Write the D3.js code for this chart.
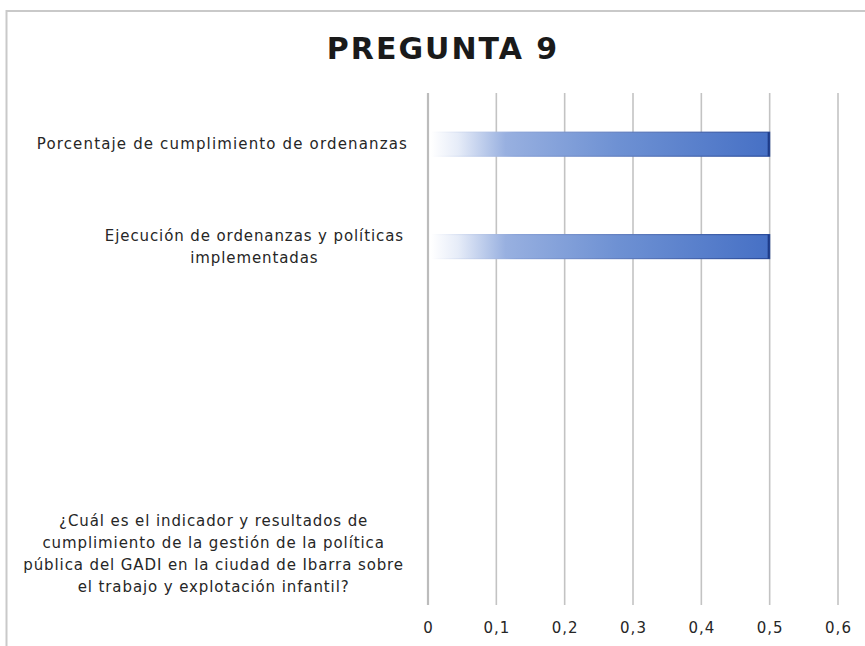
<!DOCTYPE html>
<html>
<head>
<meta charset="utf-8">
<script src="https://cdn.jsdelivr.net/npm/d3@7"></script>
<style>
  body { margin: 0; background: #fff; }
  text { font-family: "DejaVu Sans", sans-serif; fill: #262626; }
</style>
</head>
<body>
<div class="chart"></div>
<script>
// data
var categories = [
  "Porcentaje de cumplimiento de ordenanzas",
  "Ejecución de ordenanzas y políticas\nimplementadas",
  "",
  "",
  "¿Cuál es el indicador y resultados de\ncumplimiento de la gestión de la política\npública del GADI en la ciudad de Ibarra sobre\nel trabajo y explotación infantil?"
];
var values = [0.5, 0.5, null, null, null];
var xTicks = [0, 0.1, 0.2, 0.3, 0.4, 0.5, 0.6];
var title = "PREGUNTA 9";

var svgWidth = 865;
var svgHeight = 646;
var margin = { top: 93, right: 27, bottom: 41, left: 428 };
var width = svgWidth - margin.left - margin.right;
var height = svgHeight - margin.top - margin.bottom;

var svg = d3.select(".chart")
  .append("svg")
  .attr("width", svgWidth)
  .attr("height", svgHeight);

// chart frame (top + left edges visible)
svg.append("path")
  .attr("d", "M6.5,646 V11 H865")
  .attr("fill", "none")
  .attr("stroke", "#c9c9c9")
  .attr("stroke-width", 2);

var defs = svg.append("defs");
var grad = defs.append("linearGradient").attr("id", "barFill")
  .attr("x1", "0%").attr("x2", "100%").attr("y1", "0%").attr("y2", "0%");
[["0%", "#ffffff"], ["8%", "#e6ecf8"], ["22%", "#98b0e0"], ["55%", "#6e91d3"], ["100%", "#4670c5"]]
  .forEach(function(s) { grad.append("stop").attr("offset", s[0]).attr("stop-color", s[1]); });

var gradStroke = defs.append("linearGradient").attr("id", "barStroke")
  .attr("x1", "0%").attr("x2", "100%").attr("y1", "0%").attr("y2", "0%");
[["0%", "#ffffff"], ["25%", "#8aa3d8"], ["100%", "#2a4c9c"]]
  .forEach(function(s) { gradStroke.append("stop").attr("offset", s[0]).attr("stop-color", s[1]); });

svg.append("text")
  .attr("x", 442 + 1)
  .attr("y", 59)
  .attr("text-anchor", "middle")
  .style("font-size", "30px")
  .style("font-weight", "bold")
  .style("letter-spacing", "2px")
  .style("fill", "#1a1a1a")
  .text(title);

var chart = svg.append("g")
  .attr("transform", "translate(" + margin.left + "," + margin.top + ")");

var xScale = d3.scaleLinear().domain([0, 0.6]).range([0, width]);
var yScale = d3.scaleBand()
  .domain(d3.range(categories.length))
  .range([0, height])
  .paddingInner(0.766)
  .paddingOuter(0.383);

// gridlines
chart.selectAll(".grid")
  .data(xTicks)
  .enter()
  .append("line")
  .attr("class", "grid")
  .attr("x1", function(d) { return xScale(d); })
  .attr("x2", function(d) { return xScale(d); })
  .attr("y1", 0)
  .attr("y2", height)
  .attr("stroke", function(d) { return d === 0 ? "#bcbcbc" : "#c3c3c3"; })
  .attr("stroke-width", function(d) { return d === 0 ? 2.2 : 1.6; });

// x axis labels
var fmt = function(d) { return d3.format(".1~f")(d).replace(".", ","); };
var bottomAxis = d3.axisBottom(xScale)
  .tickValues(xTicks)
  .tickFormat(function(d) { return d === 0 ? "0" : fmt(d); })
  .tickSize(0)
  .tickPadding(17);

var xAxis = chart.append("g")
  .attr("transform", "translate(0," + height + ")")
  .call(bottomAxis);
xAxis.select(".domain").remove();
xAxis.selectAll("text")
  .style("font-family", "DejaVu Sans, sans-serif")
  .style("font-size", "15px")
  .style("letter-spacing", "1px")
  .style("fill", "#262626");

// bars
var barData = values.map(function(v, i) { return { i: i, v: v }; })
  .filter(function(d) { return d.v != null; });

chart.selectAll(".bar")
  .data(barData)
  .enter()
  .append("rect")
  .attr("class", "bar")
  .attr("x", xScale(0) + 3)
  .attr("y", function(d) { return yScale(d.i); })
  .attr("width", function(d) { return xScale(d.v) - xScale(0) - 3; })
  .attr("height", yScale.bandwidth())
  .attr("fill", "url(#barFill)")
  .attr("stroke", "url(#barStroke)")
  .attr("stroke-width", 1.2);

// right edge of the bars is darker
chart.selectAll(".barEdge")
  .data(barData)
  .enter()
  .append("line")
  .attr("class", "barEdge")
  .attr("x1", function(d) { return xScale(d.v) - 1; })
  .attr("x2", function(d) { return xScale(d.v) - 1; })
  .attr("y1", function(d) { return yScale(d.i); })
  .attr("y2", function(d) { return yScale(d.i) + yScale.bandwidth(); })
  .attr("stroke", "#1f3c88")
  .attr("stroke-width", 2);

// category labels
var lineH = 22;
var labelRight = -20;
categories.forEach(function(label, i) {
  if (!label) return;
  var lines = label.split("\n");
  var cy = yScale(i) + yScale.bandwidth() / 2;
  var t = chart.append("text")
    .style("font-size", "15px")
    .style("letter-spacing", lines.length === 1 ? "1.15px" : "0.9px")
    .attr("y", cy - (lines.length - 1) * lineH / 2 + 5);
  lines.forEach(function(l, k) {
    t.append("tspan").attr("dy", k === 0 ? 0 : lineH).text(l);
  });
  if (lines.length === 1) {
    t.attr("text-anchor", "end").selectAll("tspan").attr("x", labelRight);
  } else {
    var w = 0;
    t.selectAll("tspan").each(function() { w = Math.max(w, this.getComputedTextLength()); });
    var cx = labelRight - 4 - w / 2;
    t.attr("text-anchor", "middle").selectAll("tspan").attr("x", cx);
  }
});
</script>
</body>
</html>
